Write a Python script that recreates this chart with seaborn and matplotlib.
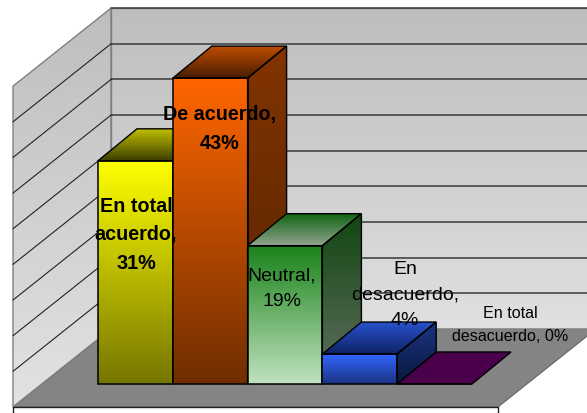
import numpy as np
import matplotlib
matplotlib.use('Agg')
import matplotlib.pyplot as plt
from matplotlib.patches import Polygon
import seaborn as sns

#chart values
categories = ['En total acuerdo', 'De acuerdo', 'Neutral', 'En desacuerdo', 'En total desacuerdo']
values = [31.3, 42.9, 19.4, 4.2, 0]
axis_ticks = [0, 5, 10, 15, 20, 25, 30, 35, 40, 45]

#how the labels break
label_lines = ['En total\nacuerdo,', 'De acuerdo,', 'Neutral,', 'En\ndesacuerdo,', 'En total\ndesacuerdo,']
label_join = ['\n', '\n', '\n', '\n', ' ']
label_bold = [True, True, False, False, False]
label_size = [14.2, 14.2, 14, 14, 11.6]
label_spacing = [1.62, 1.62, 1.62, 1.62, 1.7]
label_px = [(136, 235), (220, 129), (282, 289), (405, 295), (510, 325)]

#gradient colours: front, top and side face, each (start, end)
front_cols = [((255, 255, 0), (118, 118, 0)), ((255, 102, 0), (112, 46, 0)), ((25, 130, 25), (192, 226, 192)),
              ((51, 102, 255), (25, 50, 130)), ((75, 0, 75), (75, 0, 75))]
top_cols = [((190, 190, 0), (60, 60, 0)), ((190, 76, 0), (72, 30, 0)), ((20, 100, 20), (145, 165, 145)),
            ((40, 82, 205), (15, 35, 100)), ((75, 0, 75), (75, 0, 75))]
side_cols = [((128, 128, 0), (60, 60, 0)), ((130, 52, 0), (84, 34, 0)), ((18, 70, 18), (98, 112, 98)),
             ((26, 52, 130), (10, 24, 62)), ((75, 0, 75), (75, 0, 75))]

#layout in pixels of the picture
W, H = 587, 413
BAR_LEFT, BAR_W = 98, 74.8
BASE_Y, PER_UNIT = 384, 7.13
DEPTH_X, DEPTH_Y = 39, 32
WALL_X, FLOOR_BACK_Y = 111, 329
LEFT_X, FLOOR_FRONT_Y = 13, 407
FLOOR_RIGHT = 498


def to_x(px):
    return (px - BAR_LEFT) / BAR_W - 0.5


def to_y(py):
    return (BASE_Y - py) / PER_UNIT


def pts(pairs):
    return [(to_x(a), to_y(b)) for a, b in pairs]


def gradient(ax, poly, c1, c2, z):
    #vertical gradient clipped to a polygon
    arr = np.array(poly)
    ramp = np.linspace(0, 1, 128)[:, None]
    img = (np.array(c1) * (1 - ramp) + np.array(c2) * ramp) / 255
    im = ax.imshow(img[:, None, :], extent=(arr[:, 0].min(), arr[:, 0].max(), arr[:, 1].min(), arr[:, 1].max()),
                   aspect='auto', origin='upper', interpolation='bilinear', zorder=z)
    im.set_clip_path(Polygon(arr, closed=True, transform=ax.transData))


def edge(ax, poly, col, lw, z):
    ax.add_patch(Polygon(poly, closed=True, fill=False, edgecolor=col, linewidth=lw, zorder=z, joinstyle='miter'))


sns.set_theme(style='white')
plt.rcParams['font.family'] = ['Liberation Sans', 'DejaVu Sans']

fig = plt.figure(figsize=(W / 100, H / 100), dpi=100)
ax = fig.add_axes([0, 0, 1, 1])

sns.barplot(x=categories, y=values, hue=categories, width=1, legend=False, palette=['#ffffff'] * 5,
            edgecolor='black', linewidth=1.1, ax=ax)
bars = list(ax.patches)

top_v = axis_ticks[-1]
wall_top = FLOOR_BACK_Y - top_v * PER_UNIT
left_top = FLOOR_FRONT_Y - top_v * PER_UNIT
right_x = FLOOR_RIGHT + WALL_X - LEFT_X

#walls and floor
back = pts([(WALL_X, wall_top), (right_x, wall_top), (right_x, FLOOR_BACK_Y), (WALL_X, FLOOR_BACK_Y)])
left = pts([(LEFT_X, left_top), (WALL_X, wall_top), (WALL_X, FLOOR_BACK_Y), (LEFT_X, FLOOR_FRONT_Y)])
floor = pts([(LEFT_X, FLOOR_FRONT_Y), (WALL_X, FLOOR_BACK_Y), (right_x, FLOOR_BACK_Y), (FLOOR_RIGHT, FLOOR_FRONT_Y)])
gradient(ax, back, (190, 190, 190), (224, 224, 224), 1)
gradient(ax, left, (190, 190, 190), (226, 226, 226), 1)
ax.add_patch(Polygon(floor, closed=True, facecolor='#848484', edgecolor='#666666', linewidth=0.8, zorder=2))
edge(ax, back, '#808080', 1.0, 2.5)
edge(ax, left, '#808080', 1.0, 2.5)

#gridlines on both walls
for t in axis_ticks[1:]:
    lift = t * PER_UNIT
    line = pts([(WALL_X, FLOOR_BACK_Y - lift), (right_x, FLOOR_BACK_Y - lift)])
    ax.plot(*zip(*line), color='#3a3a3a', lw=1.1, zorder=3)
    if t < top_v:
        line = pts([(LEFT_X, FLOOR_FRONT_Y - lift), (WALL_X, FLOOR_BACK_Y - lift)])
        ax.plot(*zip(*line), color='#222222', lw=0.8, zorder=3)

#front edge of the floor and the two end ticks
ax.plot(*zip(*pts([(LEFT_X, H), (LEFT_X, FLOOR_FRONT_Y), (FLOOR_RIGHT, FLOOR_FRONT_Y), (FLOOR_RIGHT, H)])),
        color='#222222', lw=1.0, zorder=3)

#bars, painted left to right
dx, dy = DEPTH_X / BAR_W, DEPTH_Y / PER_UNIT
for i, bar in enumerate(bars):
    z = 10 + i
    x0, x1 = bar.get_x(), bar.get_x() + bar.get_width()
    h = bar.get_height()
    top = [(x0, h), (x1, h), (x1 + dx, h + dy), (x0 + dx, h + dy)]
    gradient(ax, top, top_cols[i][0], top_cols[i][1], z + 0.1)
    edge(ax, top, 'black', 1.0, z + 0.4)
    if h > 0:
        side = [(x1, 0), (x1 + dx, dy), (x1 + dx, h + dy), (x1, h)]
        gradient(ax, side, side_cols[i][0], side_cols[i][1], z + 0.1)
        edge(ax, side, 'black', 1.0, z + 0.4)
        front = [(x0, 0), (x1, 0), (x1, h), (x0, h)]
        gradient(ax, front, front_cols[i][0], front_cols[i][1], z + 0.2)
    bar.set_facecolor('none')
    bar.set_zorder(z + 0.5)

#data labels
for i, (cx, cy) in enumerate(label_px):
    ax.text(to_x(cx), to_y(cy), f'{label_lines[i]}{label_join[i]}{round(values[i])}%', ha='center', va='center',
            multialignment='center', fontsize=label_size[i], fontweight='bold' if label_bold[i] else 'normal',
            color='black', linespacing=label_spacing[i], zorder=30)

ax.set_xlim(to_x(0), to_x(W))
ax.set_ylim(to_y(H), to_y(0))
ax.axis('off')

fig.savefig('out.png', dpi=100, facecolor='white')
